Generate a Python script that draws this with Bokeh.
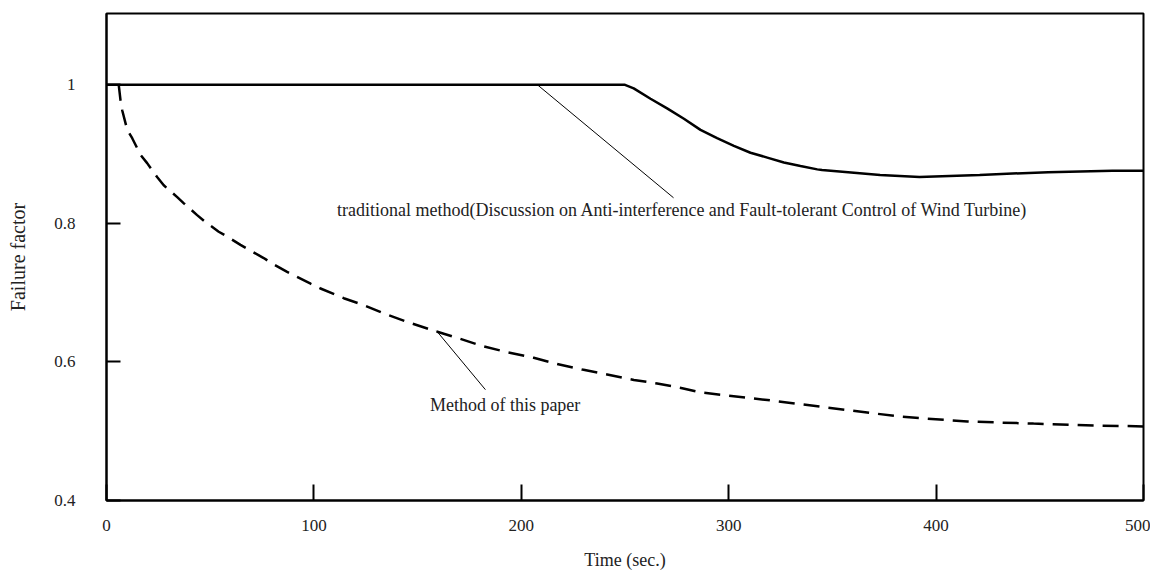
from bokeh.plotting import figure
from bokeh.models import FixedTicker, CustomJSTickFormatter, Range1d
from bokeh.core.properties import value
from bokeh.embed import file_html
from bokeh.resources import INLINE

# ---- data ----
time_traditional = [0, 250, 254.2, 262.3, 270.3, 278.4, 286.4, 294.4, 302.5, 310.5, 318.6,
                    326.6, 334.6, 342.7, 345, 373, 392, 421, 454, 485, 500]
factor_traditional = [1.0, 1.0, 0.995, 0.980, 0.966, 0.951, 0.935, 0.923, 0.912, 0.902, 0.895,
                      0.888, 0.883, 0.878, 0.877, 0.870, 0.867, 0.870, 0.874, 0.876, 0.876]

time_paper = [5.9, 6.75, 7.6, 10.0, 12.4, 16.4, 19.6, 24.4, 27.6, 34.1, 37.3, 43.7, 47.7,
              54.1, 58.2, 64.6, 68.6, 75.8, 79.9, 87.1, 91.1, 98.4, 103.2, 110.4, 114.4,
              124.1, 133.7, 145.8, 157.0, 169.9, 181.1, 193.2, 206.0, 217.3, 229.4, 241.4,
              254.3, 265.5, 277.6, 286.4, 318.7, 334.6, 382.8, 415.1, 447.0, 479.3, 500.0]
factor_paper = [1.0, 0.978, 0.963, 0.935, 0.923, 0.899, 0.887, 0.867, 0.855, 0.838, 0.829,
                0.812, 0.802, 0.788, 0.781, 0.769, 0.762, 0.750, 0.742, 0.730, 0.724, 0.713,
                0.706, 0.697, 0.692, 0.682, 0.670, 0.657, 0.646, 0.634, 0.623, 0.614, 0.606,
                0.597, 0.589, 0.582, 0.574, 0.569, 0.562, 0.556, 0.545, 0.539, 0.521, 0.514,
                0.511, 0.508, 0.507]

x_ticks = [0, 100, 200, 300, 400, 500]
y_ticks = [0.4, 0.6, 0.8, 1.0]

label_traditional = ("traditional method(Discussion on Anti-interference and "
                     "Fault-tolerant Control of Wind Turbine)")
label_paper = "Method of this paper"

FONT = "Liberation Serif"

p = figure(width=1150, height=572, output_backend="svg", toolbar_location=None,
           x_range=Range1d(0, 500), y_range=Range1d(0.4, 1.103),
           min_border_left=106, min_border_right=7, min_border_top=13, min_border_bottom=71)

p.background_fill_color = "white"
p.border_fill_color = "white"
p.outline_line_color = "black"
p.outline_line_width = 2
p.xgrid.visible = False
p.ygrid.visible = False

for ax in (p.xaxis[0], p.yaxis[0]):
    ax.axis_line_width = 2
    ax.axis_line_color = "black"
    ax.major_tick_line_width = 2
    ax.major_tick_line_color = "black"
    ax.major_tick_out = 0
    ax.minor_tick_line_color = None
    ax.major_label_text_font = FONT
    ax.major_label_text_font_size = "17px"
    ax.major_label_text_color = "#222222"
    ax.axis_label_text_font = FONT
    ax.axis_label_text_font_style = "normal"
    ax.axis_label_text_color = "#222222"

p.xaxis.ticker = FixedTicker(ticks=x_ticks)
p.yaxis.ticker = FixedTicker(ticks=y_ticks)
p.yaxis.formatter = CustomJSTickFormatter(code="return String(Math.round(tick*10)/10);")
p.xaxis.major_tick_in = 16
p.yaxis.major_tick_in = 14
p.xaxis.major_label_standoff = 19
p.yaxis.major_label_standoff = 31
p.xaxis.axis_label = "Time (sec.)"
p.yaxis.axis_label = "Failure factor"
p.xaxis.axis_label_text_font_size = "18px"
p.yaxis.axis_label_text_font_size = "20px"
p.xaxis.axis_label_standoff = 16
p.yaxis.axis_label_standoff = 22

p.line(time_traditional, factor_traditional, line_color="black", line_width=2.5)
p.line(time_paper, factor_paper, line_color="black", line_width=2.5, line_dash="16 9")

# leader lines for the callouts
p.segment(x0=[207.8, 159.1], y0=[1.0, 0.645], x1=[273.4, 182.7], y1=[0.837, 0.560],
          line_color="black", line_width=1)

p.text(x=[277.7], y=[0.819], text=[label_traditional], text_font=value(FONT),
       text_font_size="18px", text_align="center", text_baseline="middle",
       text_color="#222222")
p.text(x=[192.2], y=[0.538], text=[label_paper], text_font=value(FONT),
       text_font_size="18px", text_align="center", text_baseline="middle",
       text_color="#222222")

open("out.html", "w").write(file_html(p, INLINE))
